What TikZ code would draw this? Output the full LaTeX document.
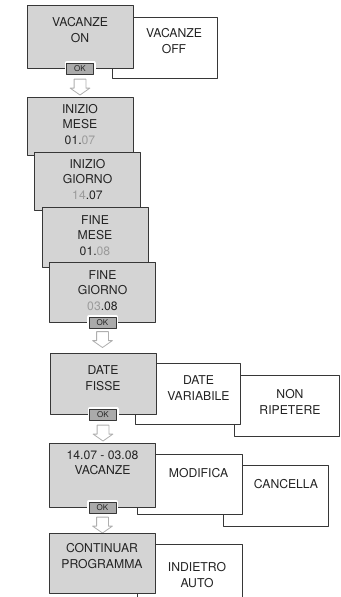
\documentclass[tikz,border=0pt]{standalone}
\usepackage{fontspec}
\setmainfont{TeX Gyre Heros}
\usetikzlibrary{shapes.arrows}
\definecolor{boxgray}{RGB}{212,212,212}
\definecolor{okgray}{RGB}{170,170,170}
\definecolor{linegray}{RGB}{55,55,55}
\definecolor{txtgray}{RGB}{35,35,35}
\definecolor{dimgray}{RGB}{155,155,155}
\definecolor{arrgray}{RGB}{175,175,175}
\begin{document}
\begin{tikzpicture}[x=1pt, y=-1pt, line join=round, font=\fontsize{12.2}{15.5}\selectfont,
		gbox/.style={draw=linegray, line width=0.8pt, fill=boxgray, minimum width=106pt, inner sep=0pt},
		wbox/.style={draw=linegray, line width=0.8pt, fill=white, minimum width=105pt, inner sep=0pt},
		txt/.style={align=center, text=txtgray, inner sep=0pt},
		okbtn/.style={draw=linegray, line width=0.8pt, fill=okgray, text=txtgray, font=\fontsize{8}{8}\selectfont,
			minimum width=27pt, minimum height=11pt, inner sep=0pt, preaction={draw=white, line width=4pt}},
		nextarrow/.style={single arrow, shape border rotate=270, draw=arrgray, line width=0.8pt, fill=white,
			inner sep=5.5pt, minimum height=13pt, single arrow head extend=4pt, single arrow tip angle=110}]
				\useasboundingbox (0,0) rectangle (340,597);
				\clip (0,0) rectangle (340,597);
				\node[wbox, minimum height=61pt] (vacOff) at (165,47.5) {};
				\node[txt] (vacOffT) at (174,41) {VACANZE\\OFF};
				\node[gbox, minimum height=63pt] (vacOn) at (80,36.5) {};
				\node[txt] (vacOnT) at (80,30) {VACANZE\\ON};
				\node[okbtn] (ok1) at (vacOn.south) {OK};
				\node[nextarrow] (arr1) at (80,85) {};
				\foreach \n/\cx/\cy/\h/\t in {iniMese/80/126/58/{INIZIO\\MESE\\01.{\color{dimgray}07}},
					iniGiorno/87.5/181/58/{INIZIO\\GIORNO\\{\color{dimgray}14}.07},
					fineMese/95/237/60/{FINE\\MESE\\01.{\color{dimgray}08}},
					fineGiorno/102.5/292/60/{FINE\\GIORNO\\{\color{dimgray}03}.08}}
				{
					\node[gbox, minimum height=\h] (\n) at (\cx,\cy) {};
					\node[txt] (\n T) at (\cx,\cy-1.5) {\t};
				}
				\node[okbtn] (ok2) at (fineGiorno.south) {OK};
				\node[nextarrow] (arr2) at (102.5,337.5) {};
				\node[wbox, minimum height=61pt] (nonRip) at (286.5,405.5) {};
				\node[txt] (nonRipT) at (290,402) {NON\\RIPETERE};
				\node[wbox, minimum height=61pt] (dateVar) at (187.5,393.5) {};
				\node[txt] (dateVarT) at (198.5,388) {DATE\\VARIABILE};
				\node[gbox, minimum height=61pt] (dateFisse) at (103,383.5) {};
				\node[txt] (dateFisseT) at (103,378) {DATE\\FISSE};
				\node[okbtn] (ok3) at (dateFisse.south) {OK};
				\node[nextarrow] (arr3) at (103,431) {};
				\node[wbox, minimum height=61pt] (cancella) at (276,495.5) {};
				\node[txt] (cancellaT) at (286,484) {CANCELLA};
				\node[wbox, minimum height=60pt] (modifica) at (190,484) {};
				\node[txt] (modificaT) at (198.5,473) {MODIFICA};
				\node[gbox, minimum height=64pt] (vacDate) at (102.5,475) {};
				\node[txt] (vacDateT) at (102.5,463) {14.07 - 03.08\\VACANZE};
				\node[okbtn] (ok4) at (vacDate.south) {OK};
				\node[nextarrow] (arr4) at (102.5,523) {};
				\node[wbox, minimum height=66pt] (indietro) at (190,577) {};
				\node[txt] (indietroT) at (197,575) {INDIETRO\\AUTO};
				\node[gbox, minimum height=60pt] (continuar) at (102,563) {};
				\node[txt] (continuarT) at (102,556) {CONTINUAR\\PROGRAMMA};
		\end{tikzpicture}
\end{document}
